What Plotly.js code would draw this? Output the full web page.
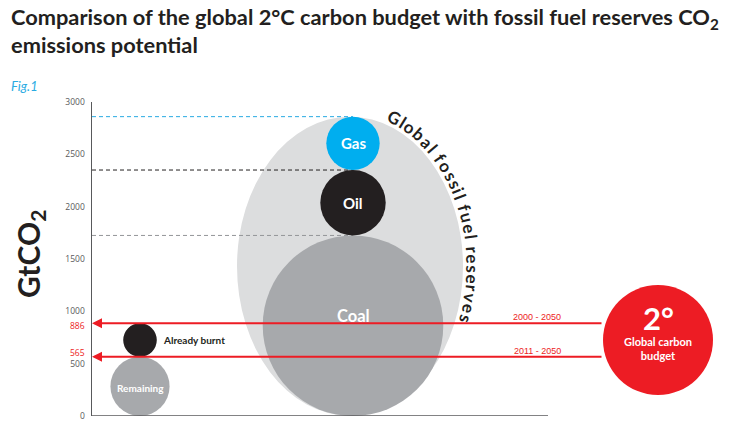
<!DOCTYPE html>
<html><head><meta charset="utf-8">
<script src="https://cdn.plot.ly/plotly-3.0.1.min.js"></script>
<style>html,body{margin:0;padding:0;background:#fff}#chart{width:736px;height:430px}</style>
</head><body><div id="chart"></div>
<script>
// ---- data ----
const fuels = ['Coal', 'Oil', 'Gas'];
const fuelReserves = [1725, 625, 510];            // GtCO2, stacked
const budgetParts = ['Remaining', 'Already burnt'];
const budgetValues = [565, 321];                   // GtCO2, stacked -> 565, 886
const budgetPeriods = ['2011 - 2050', '2000 - 2050'];
const yTickVals = [0, 500, 1000, 1500, 2000, 2500, 3000];
const reservesLabel = 'Global fossil fuel reserves';
const titleLines = ['Comparison of the global 2°C carbon budget with fossil fuel reserves CO<sub>2</sub>', 'emissions potential'];

// ---- layout constants ----
const W = 736, H = 430;
const M = {l: 92, r: 0, t: 102, b: 14};
const PW = W - M.l - M.r, PH = H - M.t - M.b;
const YMAX = 3000;
const k = PH / YMAX;                 // px per unit (same on x)
const XMAX = PW / k;
const px = p => p / k;               // pixel length -> data units
const xAt = p => (p - M.l) / k;      // page x -> data x
const paperX = p => (p - M.l) / PW;
const paperY = p => 1 - (p - M.t) / PH;

const RED = '#ED1C24', DARK = '#231F20', GREY = '#A7A9AC', LIGHT = '#DCDDDE', BLUE = '#00AEEF';
const fuelColors = [GREY, DARK, BLUE];
const dashColors = ['#939598', DARK, '#29ABE2'];
const FONT = 'Lato, "Open Sans", sans-serif';
const ctx = document.createElement('canvas').getContext('2d');

const shapes = [];
const annotations = [];

// cumulative totals
const fuelTops = []; let acc = 0;
fuelReserves.forEach(v => { acc += v; fuelTops.push(acc); });
const total = acc;
const budgetTops = []; acc = 0;
budgetValues.forEach(v => { acc += v; budgetTops.push(acc); });

// reserves ellipse
const ecx = xAt(350);
const ellW = total * 0.755;
shapes.push({type: 'circle', xref: 'x', yref: 'y', x0: ecx - ellW / 2, x1: ecx + ellW / 2, y0: 0, y1: total,
  fillcolor: LIGHT, line: {width: 0}});

// fuel circles
const fcx = xAt(353);
let base = 0;
fuelReserves.forEach((v, i) => {
  shapes.push({type: 'circle', xref: 'x', yref: 'y', x0: fcx - v / 2, x1: fcx + v / 2, y0: base, y1: base + v,
    fillcolor: fuelColors[i], line: {width: 0}});
  shapes.push({type: 'line', xref: 'x', yref: 'y', x0: 0, x1: fcx, y0: base + v, y1: base + v,
    line: {color: dashColors[i], width: 1, dash: '4px,3px'}});
  const isCoal = i === 0;
  annotations.push({x: fcx, y: base + v / 2 + (isCoal ? px(10) : 0), xref: 'x', yref: 'y', showarrow: false,
    text: '<b>' + fuels[i] + '</b>',
    font: {family: FONT, size: isCoal ? 16.5 : 15, color: '#fff'}});
  base += v;
});

// budget circles
const bcx = xAt(140);
base = 0;
budgetValues.forEach((v, i) => {
  shapes.push({type: 'circle', xref: 'x', yref: 'y', x0: bcx - v / 2, x1: bcx + v / 2, y0: base, y1: base + v,
    fillcolor: i === 0 ? GREY : DARK, line: {width: 0}});
  if (i === 0) {
    annotations.push({x: bcx, y: base + v / 2 - px(2), xref: 'x', yref: 'y', showarrow: false,
      text: '<b>' + budgetParts[i] + '</b>', font: {family: FONT, size: 10, color: '#fff'}});
  } else {
    annotations.push({x: bcx + v / 2 + px(4), y: base + v / 2, xref: 'x', yref: 'y', showarrow: false, xanchor: 'left',
      text: '<b>' + budgetParts[i] + '</b>', font: {family: FONT, size: 10, color: DARK}});
  }
  base += v;
});

// 2 degree budget circle
const gcx = xAt(658), gcy = 726, gr = px(55);
shapes.push({type: 'circle', xref: 'x', yref: 'y', x0: gcx - gr, x1: gcx + gr, y0: gcy - gr, y1: gcy + gr,
  fillcolor: RED, line: {width: 0}});
annotations.push({x: gcx, y: gcy + px(22), xref: 'x', yref: 'y', showarrow: false,
  text: '<b>2°</b>', font: {family: FONT, size: 31, color: '#fff'}});
annotations.push({x: gcx, y: gcy - px(8), xref: 'x', yref: 'y', showarrow: false,
  text: '<b>Global carbon<br>budget</b>', font: {family: FONT, size: 11, color: '#fff'}});

// red budget lines with arrows + red axis labels
const labelShift = [4, -2];
budgetTops.forEach((v, i) => {
  annotations.push({x: 0, y: v, ax: gcx - gr, ay: v, xref: 'x', yref: 'y', axref: 'x', ayref: 'y',
    text: '', showarrow: true, arrowhead: 2, arrowsize: 1, arrowwidth: 2, arrowcolor: RED, standoff: 0, startstandoff: 0});
  annotations.push({x: xAt(537), y: v + px(6), xref: 'x', yref: 'y', showarrow: false,
    text: budgetPeriods[i], font: {family: 'Liberation Sans, Arial, sans-serif', size: 9, color: RED}});
  annotations.push({x: paperX(87), y: v, xref: 'paper', yref: 'y', xanchor: 'right', yanchor: 'middle', yshift: labelShift[i],
    showarrow: false, text: String(v), font: {family: '"Open Sans", sans-serif', size: 8.5, color: RED}});
});

// bottom axis line
shapes.push({type: 'line', xref: 'x', yref: 'y', x0: 0, x1: xAt(548), y0: 0, y1: 0,
  line: {color: '#58595B', width: 1.5}});

// curved label around ellipse
(function () {
  const fontSize = 17, spacing = 1.7;
  ctx.font = 'bold ' + fontSize + 'px Lato';
  const off = px(10);
  const A = ellW / 2 + off, B = total / 2 + off, ecy = total / 2;
  const P = t => [ecx + A * Math.sin(t), ecy + B * Math.cos(t)];
  let t = 18 * Math.PI / 180;
  const dt = 0.0005;
  const advance = lenPx => {
    let L = 0;
    while (L < lenPx) {
      const a = P(t), b = P(t + dt);
      L += Math.hypot(b[0] - a[0], b[1] - a[1]) * k;
      t += dt;
    }
  };
  for (const ch of reservesLabel) {
    const w = ctx.measureText(ch).width + spacing;
    advance(w / 2);
    if (ch !== ' ') {
      const p = P(t);
      const ang = Math.atan2(B * Math.sin(t), A * Math.cos(t)) * 180 / Math.PI;
      annotations.push({x: p[0], y: p[1], xref: 'x', yref: 'y', showarrow: false, text: '<b>' + ch + '</b>',
        textangle: ang, xanchor: 'center', yanchor: 'middle', font: {family: FONT, size: fontSize, color: DARK}});
    }
    advance(w / 2);
  }
})();

// title (sized to span the same width as the reference)
ctx.font = 'bold 20px Lato';
const tw = ctx.measureText('Comparison of the global 2°C carbon budget with fossil fuel reserves CO').width;
const titleSize = Math.min(22, 20 * 700 / tw);
titleLines.forEach((ln, i) => {
  annotations.push({x: paperX(9), y: paperY(18 + i * 27), xref: 'paper', yref: 'paper', xanchor: 'left', yanchor: 'middle',
    showarrow: false, text: '<b>' + ln + '</b>', font: {family: FONT, size: titleSize, color: DARK}});
});

// Fig.1
annotations.push({x: paperX(9), y: paperY(86), xref: 'paper', yref: 'paper', xanchor: 'left', yanchor: 'middle',
  showarrow: false, text: '<i>Fig.1</i>', font: {family: FONT, size: 13, color: '#29ABE2'}});
// y title
annotations.push({x: paperX(30), y: paperY(254), xref: 'paper', yref: 'paper', xanchor: 'center', yanchor: 'middle',
  showarrow: false, textangle: -90, text: '<b>GtCO<sub>2</sub></b>', font: {family: FONT, size: 30, color: DARK}});

const layout = {
  width: W, height: H,
  margin: M,
  paper_bgcolor: '#fff', plot_bgcolor: 'rgba(0,0,0,0)',
  showlegend: false,
  xaxis: {range: [0, XMAX], visible: false, fixedrange: true},
  yaxis: {range: [0, YMAX], tickvals: yTickVals, ticktext: yTickVals.map(String), showgrid: false, zeroline: false,
    showline: true, linecolor: '#58595B', linewidth: 1.5, ticks: '', ticklabelstandoff: 4,
    tickfont: {family: '"Open Sans", sans-serif', size: 8.5, color: '#58595B'}, fixedrange: true},
  shapes: shapes,
  annotations: annotations
};

Plotly.newPlot('chart', [{x: [], y: [], type: 'scatter'}], layout, {displayModeBar: false, staticPlot: true});
</script></body></html>
